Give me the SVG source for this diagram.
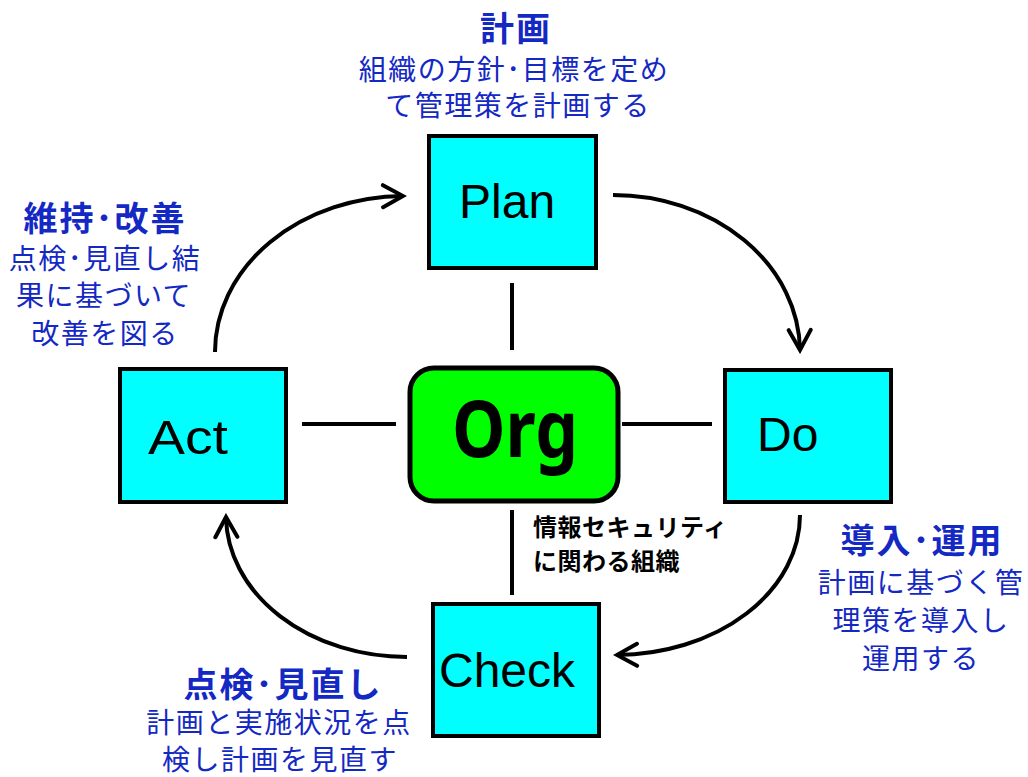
<svg xmlns="http://www.w3.org/2000/svg" width="1028" height="777" viewBox="0 0 1028 777">
  <style>
    .box { fill: #00ffff; stroke: #000; stroke-width: 4; }
    .org { fill: #00ff00; stroke: #000; stroke-width: 5; }
    .lbl { font-family: "Liberation Sans", Arial, sans-serif; font-size: 48px; fill: #000; }
    .jp { font-family: "Noto Sans CJK JP", sans-serif; fill: #1428c4; text-anchor: middle; }
    .head { font-size: 34px; font-weight: bold; letter-spacing: 2px; }
    .body { font-size: 28px; letter-spacing: 1.5px; }
    .note { font-family: "Noto Sans CJK JP", sans-serif; font-size: 24px; font-weight: bold; fill: #000; letter-spacing: 0.5px; }
    .link { stroke: #000; stroke-width: 4; fill: none; }
    .cycle { stroke: #000; stroke-width: 4; fill: none; marker-end: url(#chev); }
  </style>
  <defs>
    <marker id="chev" markerUnits="userSpaceOnUse" viewBox="-24 -14 28 28" markerWidth="28" markerHeight="28" refX="0" refY="0" orient="auto">
      <path d="M-20,-11 L0,0 L-20,11" fill="none" stroke="#000" stroke-width="4" stroke-linecap="round" stroke-linejoin="miter"/>
    </marker>
  </defs>

  <rect width="1028" height="777" fill="#fff"/>

  <!-- connectors -->
  <g id="connectors">
    <line class="link" x1="512" y1="283" x2="512" y2="350"/>
    <line class="link" x1="512" y1="510" x2="512" y2="595"/>
    <line class="link" x1="302" y1="424" x2="396" y2="424"/>
    <line class="link" x1="622" y1="424" x2="712" y2="424"/>
    <path class="cycle" d="M215,352 A190,156 0 0 1 403,196"/>
    <path class="cycle" d="M613,195 A187,157 0 0 1 800,350"/>
    <path class="cycle" d="M800,515 A185,140 0 0 1 617,655"/>
    <path class="cycle" d="M407,657 A181,142 0 0 1 226,517"/>
  </g>

  <!-- nodes -->
  <g id="plan">
    <rect class="box" x="429" y="136" width="167" height="132"/>
    <text class="lbl" x="459" y="218">Plan</text>
  </g>
  <g id="do">
    <rect class="box" x="725" y="370" width="166" height="132"/>
    <text class="lbl" x="757" y="451">Do</text>
  </g>
  <g id="check">
    <rect class="box" x="433" y="604" width="166" height="132"/>
    <text class="lbl" x="439" y="687">Check</text>
  </g>
  <g id="act">
    <rect class="box" x="120" y="369" width="166" height="133"/>
    <text class="lbl" x="148" y="454" textLength="80" lengthAdjust="spacingAndGlyphs">Act</text>
  </g>
  <g id="org">
    <rect class="org" x="410" y="368" width="208" height="133" rx="24" ry="24"/>
    <text x="515" y="457" font-family="'Noto Sans', 'Liberation Sans', sans-serif" font-size="78" font-weight="bold" text-anchor="middle" textLength="126" lengthAdjust="spacingAndGlyphs">Org</text>
  </g>

  <!-- annotations -->
  <g id="plan-note">
    <text class="jp head" x="516" y="41">計画</text>
    <text class="jp body" x="514" y="80">組織の方針･目標を定め</text>
    <text class="jp body" x="518" y="116">て管理策を計画する</text>
  </g>
  <g id="act-note">
    <text class="jp head" x="105" y="231">維持･改善</text>
    <text class="jp body" x="105" y="269">点検･見直し結</text>
    <text class="jp body" x="104" y="306">果に基づいて</text>
    <text class="jp body" x="105" y="344">改善を図る</text>
  </g>
  <g id="do-note">
    <text class="jp head" x="922" y="553">導入･運用</text>
    <text class="jp body" x="921" y="593">計画に基づく管</text>
    <text class="jp body" x="921" y="631">理策を導入し</text>
    <text class="jp body" x="921" y="669">運用する</text>
  </g>
  <g id="check-note">
    <text class="jp head" x="283" y="697">点検･見直し</text>
    <text class="jp body" x="279" y="733">計画と実施状況を点</text>
    <text class="jp body" x="280" y="770">検し計画を見直す</text>
  </g>
  <g id="org-note">
    <text class="note" x="533" y="536">情報セキュリティ</text>
    <text class="note" x="533" y="570">に関わる組織</text>
  </g>
</svg>
